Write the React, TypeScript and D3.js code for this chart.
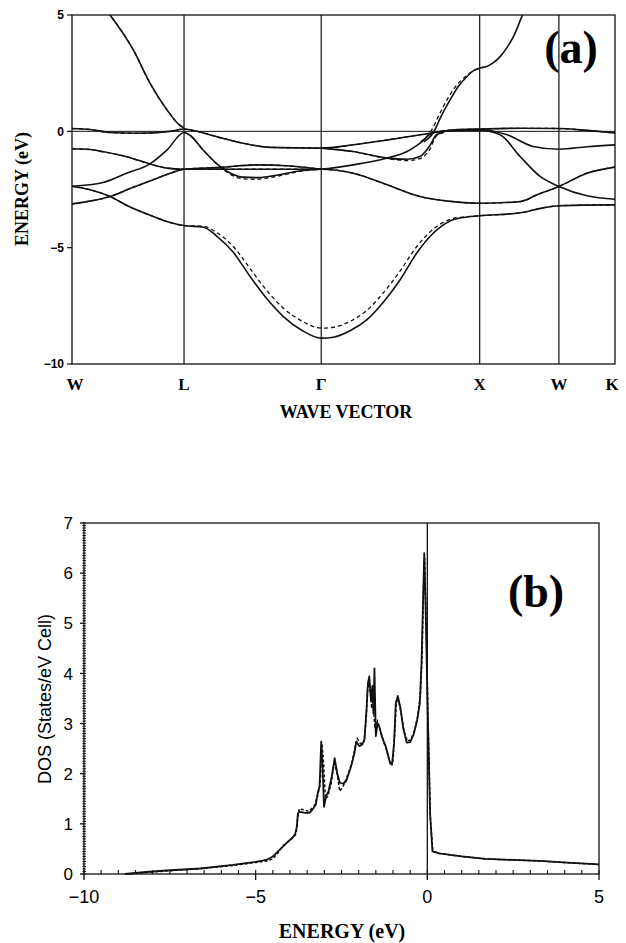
import React, { useEffect, useRef } from "react";
import * as d3 from "d3";

// ---------- panel (a): band structure along W-L-Γ-X-W-K ----------
const kPoints = [0, 0.707, 1.573, 2.573, 3.073, 3.427];
const kLabels = ["W", "L", "Γ", "X", "W", "K"];
const energyTicks = [5, 0, -5, -10];

// bands as [k, E(eV)] pairs
const bandP1 = [[0, 7.0], [0.12, 6.0], [0.24, 5.0], [0.387, 3.5], [0.492, 2.07], [0.6, 0.92], [0.682, 0.25], [0.707, 0.15]];
const bandA = [[0, 0.12], [0.114, 0.08], [0.24, -0.05], [0.41, -0.08], [0.619, 0.0], [0.707, 0.1], [0.787, 0.0], [0.934, -0.27], [1.08, -0.51], [1.25, -0.69], [1.573, -0.72], [1.775, -0.58], [1.989, -0.37], [2.26, -0.08], [2.405, 0.06], [2.573, 0.1], [2.828, 0.13], [3.073, 0.12], [3.25, 0.04], [3.427, -0.07]];
const bandB = [[0, -0.75], [0.114, -0.78], [0.2, -0.88], [0.35, -1.1], [0.492, -1.4], [0.6, -1.58], [0.707, -1.63], [1.573, -1.63], [1.775, -1.8], [1.989, -2.3], [2.197, -2.8], [2.405, -3.02], [2.573, -3.09], [2.828, -3.02], [2.935, -2.73], [3.073, -2.37], [3.25, -1.8], [3.427, -1.54]];
const bandC = [[0, -2.36], [0.196, -2.2], [0.345, -1.8], [0.492, -1.4], [0.6, -0.8], [0.707, -0.05], [0.75, -0.2], [0.827, -0.8], [0.934, -1.51], [1.0, -1.8], [1.08, -1.97], [1.168, -1.99], [1.25, -1.93], [1.458, -1.68], [1.573, -1.63], [1.775, -1.44], [1.989, -1.15], [2.115, -0.87], [2.197, -0.51], [2.279, -0.05], [2.405, 0.03], [2.573, 0.05], [2.702, -0.15], [2.828, -1.08], [2.954, -1.94], [3.073, -2.37], [3.25, -2.77], [3.427, -2.92]];
const bandD = [[0, -2.36], [0.114, -2.51], [0.24, -2.8], [0.35, -3.2], [0.513, -3.66], [0.62, -3.92], [0.707, -4.05], [0.83, -4.12], [0.913, -4.5], [1.018, -5.2], [1.124, -6.24], [1.23, -7.2], [1.334, -7.96], [1.45, -8.55], [1.573, -8.89], [1.65, -8.85], [1.76, -8.55], [1.86, -8.1], [1.97, -7.3], [2.071, -6.38], [2.176, -5.23], [2.281, -4.37], [2.386, -3.85], [2.47, -3.7], [2.573, -3.63], [2.828, -3.5], [2.98, -3.28], [3.073, -3.2], [3.25, -3.17], [3.427, -3.16]];
const bandE = [[0, -3.12], [0.114, -3.0], [0.24, -2.8], [0.37, -2.45], [0.513, -2.08], [0.62, -1.8], [0.707, -1.63], [0.934, -1.55], [1.168, -1.44], [1.357, -1.48], [1.573, -1.63]];
const bandF = [[1.573, -0.72], [1.775, -0.87], [1.989, -1.15], [2.115, -1.2], [2.197, -1.08], [2.26, -0.6], [2.3, -0.15], [2.405, 0.05], [2.573, 0.07], [2.746, -0.15], [2.91, -0.65], [3.073, -0.77], [3.25, -0.66], [3.427, -0.58]];
const bandP2 = [[2.22, -0.45], [2.281, -0.05], [2.33, 0.65], [2.386, 1.35], [2.44, 1.95], [2.492, 2.35], [2.534, 2.61], [2.576, 2.72], [2.618, 2.79], [2.66, 2.95], [2.702, 3.21], [2.745, 3.6], [2.786, 4.07], [2.839, 4.93], [2.95, 6.6]];

// dashed (second calculation): differs only where visible
const dashD = [[0, -2.36], [0.114, -2.51], [0.24, -2.8], [0.35, -3.2], [0.513, -3.66], [0.62, -3.92], [0.707, -4.05], [0.83, -4.08], [0.913, -4.35], [1.018, -4.95], [1.124, -5.9], [1.23, -6.85], [1.334, -7.6], [1.45, -8.15], [1.573, -8.46], [1.65, -8.42], [1.76, -8.15], [1.86, -7.7], [1.97, -6.9], [2.071, -6.0], [2.176, -4.95], [2.281, -4.2], [2.386, -3.78], [2.47, -3.68], [2.573, -3.63], [2.828, -3.5], [2.98, -3.28], [3.073, -3.2], [3.25, -3.17], [3.427, -3.16]];
const dashC = [[0.707, -0.05], [0.75, -0.2], [0.827, -0.8], [0.934, -1.53], [1.0, -1.85], [1.08, -2.04], [1.168, -2.06], [1.25, -1.99], [1.458, -1.7], [1.573, -1.63]];
const dashF = [[1.573, -0.72], [1.775, -0.87], [1.989, -1.17], [2.115, -1.26], [2.197, -1.17], [2.26, -0.75], [2.3, -0.2], [2.405, 0.05]];
const dashP2 = [[2.2, -0.45], [2.265, 0.0], [2.32, 0.75], [2.375, 1.45], [2.43, 2.0], [2.48, 2.33], [2.534, 2.6], [2.576, 2.72]];

// ---------- panel (b): density of states ----------
const dosTicksX = [-10, -5, 0, 5];
const dosTicksY = [0, 1, 2, 3, 4, 5, 6, 7];
const dosSolid = [[-8.8, 0], [-8.2, 0.04], [-7.6, 0.07], [-6.6, 0.11], [-5.66, 0.18], [-5.0, 0.24], [-4.69, 0.28], [-4.5, 0.35], [-4.35, 0.45], [-4.2, 0.55], [-3.91, 0.74], [-3.85, 0.8], [-3.8, 0.95], [-3.77, 1.21], [-3.72, 1.24], [-3.55, 1.22], [-3.43, 1.22], [-3.33, 1.3], [-3.25, 1.38], [-3.19, 1.62], [-3.14, 1.74], [-3.09, 2.64], [-3.05, 2.1], [-3.01, 1.34], [-2.95, 1.55], [-2.88, 1.65], [-2.78, 1.95], [-2.7, 2.31], [-2.62, 2.0], [-2.55, 1.82], [-2.45, 1.8], [-2.36, 1.86], [-2.22, 2.15], [-2.12, 2.42], [-2.07, 2.64], [-1.98, 2.55], [-1.9, 2.58], [-1.83, 2.68], [-1.77, 3.3], [-1.73, 3.8], [-1.69, 3.94], [-1.64, 3.45], [-1.6, 3.75], [-1.57, 3.2], [-1.54, 4.1], [-1.5, 2.75], [-1.45, 3.0], [-1.4, 2.94], [-1.33, 2.75], [-1.2, 2.52], [-1.1, 2.25], [-1.03, 2.18], [-0.97, 2.6], [-0.92, 3.4], [-0.86, 3.55], [-0.78, 3.3], [-0.7, 2.9], [-0.6, 2.62], [-0.5, 2.63], [-0.4, 2.78], [-0.3, 3.05], [-0.22, 3.4], [-0.17, 4.2], [-0.13, 5.3], [-0.09, 6.4], [-0.05, 5.3], [0.01, 3.3], [0.08, 1.2], [0.15, 0.45], [0.35, 0.41], [1.0, 0.35], [1.7, 0.3], [2.5, 0.28], [3.26, 0.26], [4.2, 0.22], [5.0, 0.19]];
const dosDashed = [[-8.8, 0], [-8.2, 0.03], [-7.6, 0.06], [-6.6, 0.11], [-5.66, 0.17], [-5.0, 0.23], [-4.69, 0.26], [-4.5, 0.3], [-4.35, 0.42], [-4.2, 0.57], [-3.91, 0.72], [-3.82, 0.8], [-3.78, 1.1], [-3.73, 1.3], [-3.6, 1.28], [-3.45, 1.25], [-3.3, 1.35], [-3.2, 1.55], [-3.12, 1.8], [-3.07, 2.6], [-3.02, 2.2], [-2.97, 1.5], [-2.9, 1.55], [-2.8, 1.8], [-2.72, 2.2], [-2.64, 2.05], [-2.55, 1.65], [-2.45, 1.75], [-2.36, 1.9], [-2.2, 2.2], [-2.1, 2.55], [-2.04, 2.7], [-1.95, 2.6], [-1.85, 2.62], [-1.78, 3.1], [-1.74, 3.7], [-1.71, 3.85], [-1.66, 3.6], [-1.62, 3.3], [-1.58, 3.5], [-1.53, 2.9], [-1.45, 3.05], [-1.38, 2.9], [-1.3, 2.7], [-1.18, 2.45], [-1.08, 2.2], [-1.0, 2.25], [-0.95, 2.8], [-0.9, 3.45], [-0.84, 3.45], [-0.76, 3.2], [-0.68, 2.85], [-0.58, 2.65], [-0.48, 2.68], [-0.38, 2.85], [-0.28, 3.15], [-0.2, 3.6], [-0.15, 4.4], [-0.12, 5.5], [-0.08, 6.3], [-0.04, 5.2], [0.02, 3.1], [0.09, 1.1], [0.16, 0.45], [0.35, 0.41], [1.0, 0.35], [1.7, 0.3], [2.5, 0.28], [3.26, 0.26], [4.2, 0.22], [5.0, 0.19]];

const serif = "'Liberation Serif', 'DejaVu Serif', serif";
const sans = "'Liberation Sans', Arial, sans-serif";
const ink = "#111";

const App = () => {
  const ref = useRef<SVGSVGElement>(null);

  useEffect(() => {
    const svg = d3.select(ref.current);
    svg.selectAll("*").remove();

    // ===== panel (a) =====
    const x = d3.scaleLinear().domain([0, kPoints[kPoints.length - 1]]).range([72, 615]);
    const y = d3.scaleLinear().domain([-10, 5]).range([364, 15]);

    svg.append("defs").append("clipPath").attr("id", "clipA")
      .append("rect")
      .attr("x", x(0)).attr("y", y(5))
      .attr("width", x(kPoints[kPoints.length - 1]) - x(0))
      .attr("height", y(-10) - y(5));

    const gA = svg.append("g");

    // frame
    gA.append("rect")
      .attr("x", x(0)).attr("y", y(5))
      .attr("width", x(kPoints[kPoints.length - 1]) - x(0))
      .attr("height", y(-10) - y(5))
      .attr("fill", "none").attr("stroke", ink).attr("stroke-width", 1.3);

    // symmetry point lines
    gA.selectAll("line.sym").data(kPoints.slice(1, -1)).join("line")
      .attr("x1", (d) => x(d)).attr("x2", (d) => x(d))
      .attr("y1", y(5)).attr("y2", y(-10))
      .attr("stroke", ink).attr("stroke-width", 1.2);

    // Fermi level
    gA.append("line")
      .attr("x1", x(0)).attr("x2", x(kPoints[kPoints.length - 1]))
      .attr("y1", y(0)).attr("y2", y(0))
      .attr("stroke", ink).attr("stroke-width", 1);

    // y ticks
    gA.selectAll("line.yt").data(energyTicks).join("line")
      .attr("x1", x(0) - 5).attr("x2", x(0))
      .attr("y1", (d) => y(d)).attr("y2", (d) => y(d))
      .attr("stroke", ink).attr("stroke-width", 1.2);
    gA.selectAll("text.yt").data(energyTicks).join("text")
      .attr("x", x(0) - 8).attr("y", (d) => y(d))
      .attr("dy", "0.36em")
      .attr("text-anchor", "end")
      .attr("font-family", sans).attr("font-weight", "bold").attr("font-size", 12)
      .text((d) => (d < 0 ? "−" + Math.abs(d) : String(d)));

    // k labels
    gA.selectAll("text.k").data(kPoints).join("text")
      .attr("x", (d, i) => x(d) + (i === 0 ? 3 : i === kPoints.length - 1 ? -3 : 0))
      .attr("y", 390)
      .attr("text-anchor", "middle")
      .attr("font-family", serif).attr("font-weight", "bold").attr("font-size", 17)
      .text((d, i) => kLabels[i]);

    gA.append("text")
      .attr("x", 346).attr("y", 418)
      .attr("text-anchor", "middle")
      .attr("font-family", serif).attr("font-weight", "bold").attr("font-size", 18)
      .text("WAVE VECTOR");

    gA.append("text")
      .attr("transform", "translate(28,189) rotate(-90)")
      .attr("text-anchor", "middle")
      .attr("font-family", serif).attr("font-weight", "bold").attr("font-size", 18)
      .text("ENERGY (eV)");

    gA.append("text")
      .attr("x", 571).attr("y", 63)
      .attr("text-anchor", "middle")
      .attr("font-family", serif).attr("font-weight", "bold").attr("font-size", 46)
      .text("(a)");

    const bandLine = d3.line<number[]>()
      .x((d) => x(d[0]))
      .y((d) => y(d[1]))
      .curve(d3.curveMonotoneX);

    const plotA = gA.append("g").attr("clip-path", "url(#clipA)");

    const dashedBands = [dashD, dashC, dashF, dashP2, bandA, bandB, bandE, bandP1];
    plotA.selectAll("path.dash").data(dashedBands).join("path")
      .attr("d", (d) => bandLine(d))
      .attr("fill", "none").attr("stroke", ink)
      .attr("stroke-width", 1.3).attr("stroke-dasharray", "4,3");

    const solidBands = [bandP1, bandA, bandB, bandC, bandD, bandE, bandF, bandP2];
    plotA.selectAll("path.solid").data(solidBands).join("path")
      .attr("d", (d) => bandLine(d))
      .attr("fill", "none").attr("stroke", ink)
      .attr("stroke-width", 1.6);

    // ===== panel (b) =====
    const xb = d3.scaleLinear().domain([-10, 5]).range([84, 599]);
    const yb = d3.scaleLinear().domain([0, 7]).range([874, 523]);
    const gB = svg.append("g");

    gB.append("rect")
      .attr("x", xb(-10)).attr("y", yb(7))
      .attr("width", xb(5) - xb(-10)).attr("height", yb(0) - yb(7))
      .attr("fill", "none").attr("stroke", ink).attr("stroke-width", 1.3);

    // E = 0 line
    gB.append("line")
      .attr("x1", xb(0)).attr("x2", xb(0))
      .attr("y1", yb(0)).attr("y2", yb(7))
      .attr("stroke", ink).attr("stroke-width", 1.3);

    // x minor/major ticks
    const minorX = d3.range(-10, 5.001, 0.5);
    gB.selectAll("line.mx").data(minorX).join("line")
      .attr("x1", (d) => xb(d)).attr("x2", (d) => xb(d))
      .attr("y1", yb(0)).attr("y2", yb(0) - 4)
      .attr("stroke", ink).attr("stroke-width", 1.1);
    gB.selectAll("line.Mx").data(dosTicksX).join("line")
      .attr("x1", (d) => xb(d)).attr("x2", (d) => xb(d))
      .attr("y1", yb(0)).attr("y2", yb(0) + 6)
      .attr("stroke", ink).attr("stroke-width", 1.3);
    gB.selectAll("text.x").data(dosTicksX).join("text")
      .attr("x", (d) => xb(d)).attr("y", 903)
      .attr("text-anchor", "middle")
      .attr("font-family", sans).attr("font-size", 18)
      .text((d) => (d < 0 ? "−" + Math.abs(d) : String(d)));

    // y minor/major ticks
    const minorY = d3.range(0, 7.001, 0.05);
    gB.selectAll("line.my").data(minorY).join("line")
      .attr("x1", xb(-10) - 1.5).attr("x2", xb(-10) + 2)
      .attr("y1", (d) => yb(d)).attr("y2", (d) => yb(d))
      .attr("stroke", ink).attr("stroke-width", 1);
    gB.selectAll("line.My").data(dosTicksY).join("line")
      .attr("x1", xb(-10) - 4).attr("x2", xb(-10))
      .attr("y1", (d) => yb(d)).attr("y2", (d) => yb(d))
      .attr("stroke", ink).attr("stroke-width", 1.3);
    gB.selectAll("text.y").data(dosTicksY).join("text")
      .attr("x", 73).attr("y", (d) => yb(d))
      .attr("dy", "0.36em")
      .attr("text-anchor", "end")
      .attr("font-family", sans).attr("font-size", 17)
      .text((d) => String(d));

    gB.append("text")
      .attr("x", 342).attr("y", 938)
      .attr("text-anchor", "middle")
      .attr("font-family", serif).attr("font-weight", "bold").attr("font-size", 20)
      .text("ENERGY (eV)");

    gB.append("text")
      .attr("transform", "translate(51,699) rotate(-90)")
      .attr("text-anchor", "middle")
      .attr("font-family", sans).attr("font-size", 18)
      .text("DOS (States/eV Cell)");

    gB.append("text")
      .attr("x", 536).attr("y", 607)
      .attr("text-anchor", "middle")
      .attr("font-family", serif).attr("font-weight", "bold").attr("font-size", 46)
      .text("(b)");

    const dosLine = d3.line<number[]>()
      .x((d) => xb(d[0]))
      .y((d) => yb(d[1]));

    gB.append("path")
      .attr("d", dosLine(dosDashed))
      .attr("fill", "none").attr("stroke", ink)
      .attr("stroke-width", 1.5).attr("stroke-dasharray", "3,2");
    gB.append("path")
      .attr("d", dosLine(dosSolid))
      .attr("fill", "none").attr("stroke", ink)
      .attr("stroke-width", 1.8).attr("stroke-linejoin", "round");
  }, []);

  return (
    <svg
      ref={ref}
      width={626}
      height={943}
      style={{ position: "absolute", left: 0, top: 0, background: "#fff" }}
    />
  );
};

export default App;
